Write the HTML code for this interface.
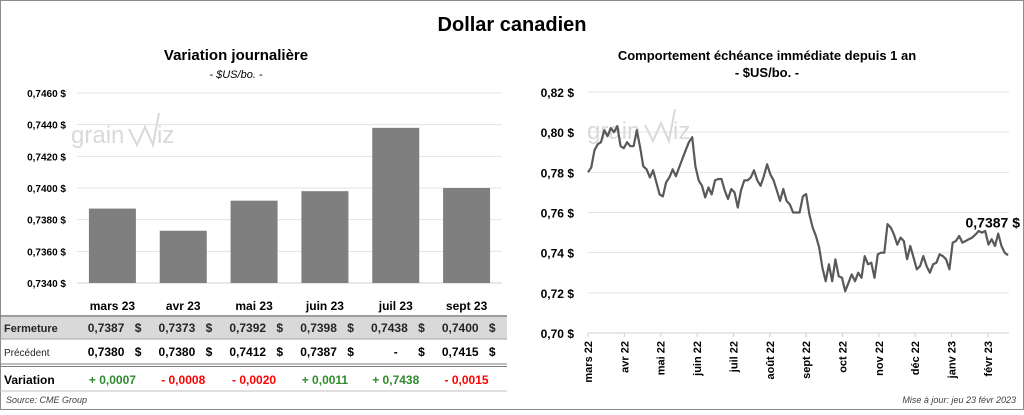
<!DOCTYPE html>
<html><head><meta charset="utf-8">
<style>
body{margin:0;width:1024px;height:410px;overflow:hidden;background:#fff;font-family:"Liberation Sans",sans-serif;}
svg text{font-family:"Liberation Sans",sans-serif;}
</style></head>
<body>
<svg id="root" width="1024" height="410" xmlns="http://www.w3.org/2000/svg">
<rect x="0.5" y="0.5" width="1023" height="409" fill="#fff" stroke="#8c8c8c"/>
<text x="512" y="31" text-anchor="middle" font-size="20" font-weight="bold" fill="#000">Dollar canadien</text>
<text x="236" y="60" text-anchor="middle" font-size="15" font-weight="bold">Variation  journalière</text>
<text x="236" y="78" text-anchor="middle" font-size="11" font-style="italic">- $US/bo. -</text>
<text x="767" y="60" text-anchor="middle" font-size="13" font-weight="bold">Comportement échéance immédiate depuis 1 an</text>
<text x="767" y="77" text-anchor="middle" font-size="13" font-weight="bold">- $US/bo. -</text>
<g id="left"></g>
<g id="right"></g>
<g id="table"></g>
<text x="6" y="403" font-size="9" font-style="italic" fill="#404040">Source: CME Group</text>
<text x="1016" y="403" text-anchor="end" font-size="9" font-style="italic" fill="#404040">Mise à jour: jeu 23 févr 2023</text>
</svg>
<script>
const barCats=["mars 23","avr 23","mai 23","juin 23","juil 23","sept 23"];
const barVals=[0.7387,0.7373,0.7392,0.7398,0.7438,0.7400];
const barTicks=[0.7340,0.7360,0.7380,0.7400,0.7420,0.7440,0.7460];
const closeTxt=["0,7387","0,7373","0,7392","0,7398","0,7438","0,7400"];
const prevTxt=["0,7380","0,7380","0,7412","0,7387","-","0,7415"];
const varTxt=["+ 0,0007","- 0,0008","- 0,0020","+ 0,0011","+ 0,7438","- 0,0015"];
const lineVals=[0.780,0.7825,0.791,0.794,0.795,0.801,0.798,0.802,0.800,0.803,0.793,0.792,0.795,0.793,0.793,0.801,0.7925,0.783,0.7815,0.7775,0.781,0.775,0.769,0.768,0.775,0.7775,0.7815,0.778,0.7825,0.7867,0.791,0.795,0.7975,0.783,0.776,0.7733,0.7675,0.7725,0.769,0.776,0.7767,0.7767,0.771,0.7667,0.7717,0.770,0.7625,0.771,0.776,0.776,0.7775,0.781,0.776,0.7733,0.778,0.784,0.779,0.776,0.771,0.7658,0.7717,0.7658,0.764,0.760,0.760,0.760,0.768,0.7692,0.759,0.7525,0.7483,0.7425,0.7325,0.7258,0.7342,0.7258,0.7367,0.7283,0.7275,0.7208,0.725,0.7292,0.7258,0.730,0.7275,0.7383,0.7342,0.735,0.7275,0.7392,0.740,0.740,0.7542,0.7525,0.749,0.744,0.7475,0.7458,0.7367,0.7433,0.7375,0.7317,0.7333,0.7383,0.7333,0.730,0.7342,0.735,0.7392,0.7383,0.7367,0.7317,0.745,0.7458,0.7483,0.745,0.7458,0.7467,0.7475,0.749,0.7508,0.750,0.7508,0.744,0.7467,0.7433,0.7495,0.7433,0.740,0.7387];
const lineTicks=[0.70,0.72,0.74,0.76,0.78,0.80,0.82];
const months=["mars 22","avr 22","mai 22","juin 22","juil 22","août 22","sept 22","oct 22","nov 22","déc 22","janv 23","févr 23"];
const lastLabel="0,7387 $";
const NS="http://www.w3.org/2000/svg";
function mk(p,t,a,txt){const e=document.createElementNS(NS,t);for(const k in a)e.setAttribute(k,a[k]);if(txt!==undefined)e.textContent=txt;p.appendChild(e);return e;}
const fmt=(v,d)=>v.toFixed(d).replace('.',',')+' $';
function watermark(p,x,y){
 const t=mk(p,'text',{x:x,y:y,'font-size':24,fill:'#d9d9d9'},'grain');
 
 
 mk(p,'polyline',{points:`${x+58},${y-14} ${x+66},${y+2} ${x+74},${y-16} ${x+82},${y+2} ${x+88},${y-30}`,fill:'none',stroke:'#d9d9d9','stroke-width':2});
 mk(p,'text',{x:x+86,y:y,'font-size':24,fill:'#d9d9d9'},'iz');
}
// left chart
const L=document.getElementById('left');
const lx0=77,lx1=502,ly0=283,ly1=93,lmin=0.7340,lmax=0.7460;
const ly=v=>ly0-(v-lmin)/(lmax-lmin)*(ly0-ly1);
const bw=(lx1-lx0)/barCats.length;
const bx=i=>lx0+bw*(i+0.5);
barTicks.forEach(t=>{
 const g=mk(L,'line',{x1:lx0,x2:lx1,y1:ly(t),y2:ly(t),stroke:t===lmin?'#d0d0d0':'#e3e3e3','stroke-width':1});
 
 
 const tx=mk(L,'text',{x:66,y:ly(t)+4,'text-anchor':'end','font-size':10,'font-weight':'bold'},fmt(t,4));
 
 
});
watermark(L,71,143);
barVals.forEach((v,i)=>{
 const r=mk(L,'rect',{x:bx(i)-23.5,y:ly(v),width:47,height:ly0-ly(v),fill:'#7f7f7f'});
 
 
});
// table
const T=document.getElementById('table');
mk(T,'line',{x1:0,x2:507,y1:316,y2:316,stroke:'#7f7f7f','stroke-width':1.5});
const gr=mk(T,'rect',{x:1,y:317,width:506,height:22,fill:'#d9d9d9'});

mk(T,'line',{x1:0,x2:507,y1:339,y2:339,stroke:'#a6a6a6','stroke-width':1});
mk(T,'line',{x1:0,x2:507,y1:364,y2:364,stroke:'#7f7f7f','stroke-width':1});
mk(T,'line',{x1:0,x2:507,y1:366.5,y2:366.5,stroke:'#7f7f7f','stroke-width':1});
mk(T,'line',{x1:0,x2:507,y1:391,y2:391,stroke:'#c0c0c0','stroke-width':1});
mk(T,'text',{x:4,y:332,'font-size':11,'font-weight':'bold',fill:'#262626'},'Fermeture');
mk(T,'text',{x:4,y:356,'font-size':10,fill:'#262626'},'Précédent');
mk(T,'text',{x:4,y:384,'font-size':12,'font-weight':'bold'},'Variation');
barCats.forEach((c,i)=>{
 const x=bx(i)+2;
 const h=mk(T,'text',{x:bx(i),y:310,'text-anchor':'middle','font-size':12,'font-weight':'bold'},c);
 
 
 mk(T,'text',{x:x+10,y:332,'text-anchor':'end','font-size':12,'font-weight':'bold',fill:'#262626'},closeTxt[i]);
 mk(T,'text',{x:x+27,y:332,'text-anchor':'end','font-size':12,'font-weight':'bold',fill:'#262626'},'$');
 mk(T,'text',{x:prevTxt[i]==='-'?x:x+10,y:356,'text-anchor':'end','font-size':12,'font-weight':'bold'},prevTxt[i]);
 mk(T,'text',{x:x+27,y:356,'text-anchor':'end','font-size':12,'font-weight':'bold'},'$');
 const vt=mk(T,'text',{x:bx(i),y:384,'text-anchor':'middle','font-size':12,'font-weight':'bold',fill:varTxt[i][0]==='+'?'#2e8b2e':'#ff0000'},varTxt[i]);
 
 
});
// right chart
const R=document.getElementById('right');
const rx0=588,rx1=1009,ry0=333,ry1=92,rmin=0.70,rmax=0.82;
const ry=v=>ry0-(v-rmin)/(rmax-rmin)*(ry0-ry1);
const mw=36.36;
lineTicks.forEach(t=>{
 const g=mk(R,'line',{x1:rx0,x2:rx1,y1:ry(t),y2:ry(t),stroke:t===rmin?'#d0d0d0':'#e3e3e3','stroke-width':1});
 
 
 const tx=mk(R,'text',{x:574,y:ry(t)+5,'text-anchor':'end','font-size':12,'font-weight':'bold'},fmt(t,2));
 
 
});
watermark(R,587,139);
months.forEach((m,i)=>{
 const x=rx0+i*mw;
 mk(R,'line',{x1:x,x2:x,y1:ry0,y2:ry0+4,stroke:'#d0d0d0'});
 const t=mk(R,'text',{x:0,y:0,'text-anchor':'end','font-size':11,'font-weight':'bold',transform:`translate(${x+4},${ry0+8}) rotate(-90)`},m);
 
 
});
const n=lineVals.length;
const lxp=i=>rx0+i*(1008-rx0)/(n-1);
const pts=lineVals.map((v,i)=>lxp(i).toFixed(1)+','+ry(v).toFixed(1)).join(' ');
const pl=mk(R,'polyline',{points:pts,fill:'none',stroke:'#595959','stroke-width':2.2,'stroke-linejoin':'round'});


const ll=mk(R,'text',{x:1020,y:ry(lineVals[n-1])-28,'text-anchor':'end','font-size':14,'font-weight':'bold'},lastLabel);


</script>
</body></html>
